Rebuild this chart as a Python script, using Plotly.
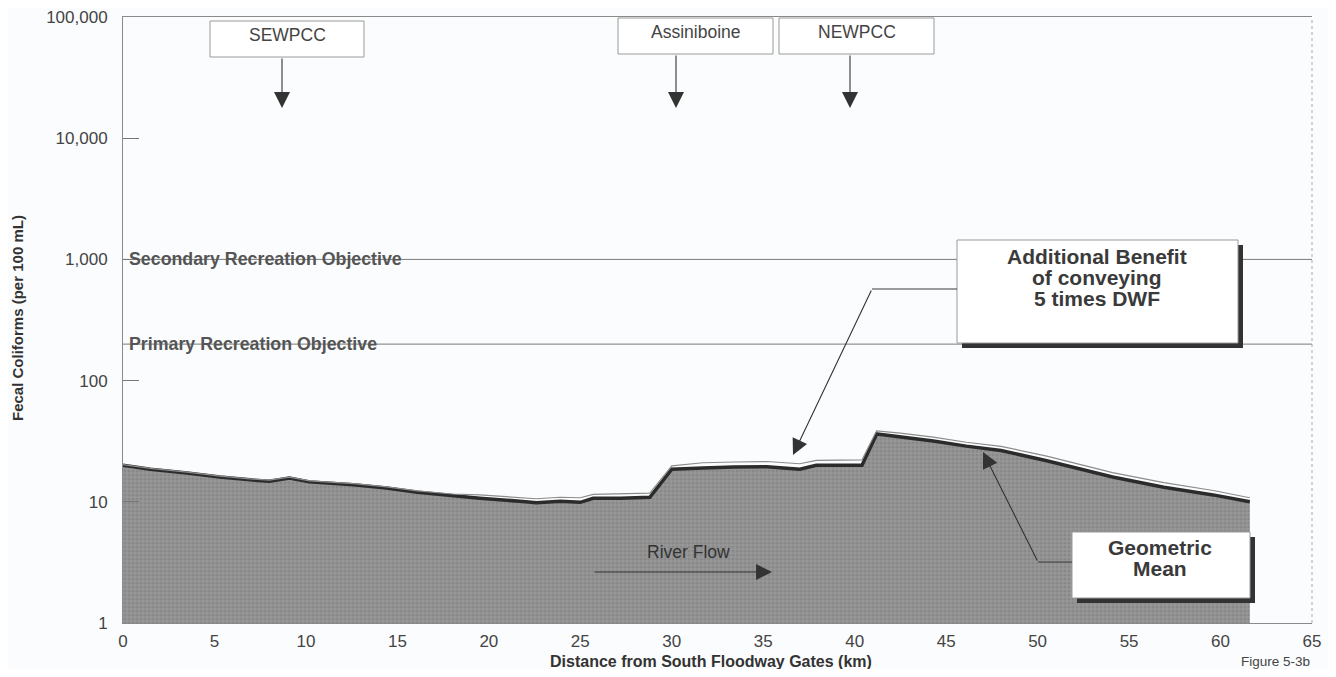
import math
import plotly.graph_objects as go

# distance downstream of the South Floodway Gates (km)
km = [0, 1.5, 3.5, 5.3, 7.1, 8.0, 9.1, 10.2, 12.6, 14.4, 16.1, 18.0, 19.5,
      21.7, 22.6, 23.9, 25.0, 25.7, 27.2, 28.8, 30.0, 31.7, 33.4, 35.2, 37.0,
      37.9, 40.4, 41.2, 42.5, 44.3, 46.1, 48.0, 50.5, 54.1, 56.9, 59.6, 61.6]

# geometric mean fecal coliforms, conveying 5 times DWF (lower, filled)
geo_mean = [20.0, 18.6, 17.3, 16.0, 15.1, 14.8, 15.7, 14.6, 13.8, 13.0, 12.0,
            11.2, 10.7, 10.1, 9.8, 10.1, 9.9, 10.7, 10.7, 10.9, 18.6, 19.0,
            19.4, 19.5, 18.6, 20.0, 20.0, 36.3, 34.3, 31.8, 28.8, 26.5, 21.8,
            16.0, 13.2, 11.4, 10.0]

# geometric mean without the additional benefit (upper thin line)
geo_mean_base = [20.3, 18.9, 17.6, 16.3, 15.4, 15.1, 16.0, 14.9, 14.1, 13.3,
                 12.3, 11.6, 11.4, 10.9, 10.6, 10.9, 10.8, 11.5, 11.6, 11.8,
                 19.8, 21.0, 21.3, 21.5, 20.6, 22.0, 22.2, 38.5, 36.8, 34.2,
                 31.0, 28.7, 23.8, 17.4, 14.4, 12.4, 10.8]

objective_names = ["Secondary Recreation Objective", "Primary Recreation Objective"]
objective_values = [1000, 200]

y_ticks = [1, 10, 100, 1000, 10000, 100000]
y_tick_text = ["1", "10", "100", "1,000", "10,000", "100,000"]
x_ticks = [0, 5, 10, 15, 20, 25, 30, 35, 40, 45, 50, 55, 60, 65]

FONT = "Arial, Liberation Sans, sans-serif"

# page has an 8px body margin; plot area in window pixels
PAGE = 8
FIG_W, FIG_H = 1336 - 2 * PAGE, 677 - 2 * PAGE
L, T, W, H = 123, 17, 1189, 606


def px(x):
    return (x - L) / W


def py(y):
    return (T + H - y) / H


fig = go.Figure()

for name, val in zip(objective_names, objective_values):
    fig.add_trace(go.Scatter(x=[0, 65], y=[val, val], mode="lines",
                             line=dict(color="#7a7a7a", width=1),
                             hoverinfo="skip", showlegend=False))

fig.add_trace(go.Scatter(x=[km[0], km[-1]], y=[1, 1], mode="lines",
                         line=dict(width=0), hoverinfo="skip", showlegend=False))
fig.add_trace(go.Scatter(
    x=km, y=geo_mean, mode="lines", fill="tonexty",
    fillcolor="#939393",
    fillpattern=dict(shape=".", bgcolor="#979797", fgcolor="#7a7a7a",
                     size=4, solidity=0.45),
    line=dict(color="#2b2b2b", width=3.5), showlegend=False))
fig.add_trace(go.Scatter(x=km, y=geo_mean_base, mode="lines",
                         line=dict(color="#8c8c8c", width=1.2), showlegend=False))

shapes = []
annotations = []


def box(x0, y0, x1, y1, shadow=False):
    if shadow:
        shapes.append(dict(type="rect", xref="paper", yref="paper",
                           x0=px(x0 + 5), x1=px(x1 + 5), y0=py(y0 + 5), y1=py(y1 + 5),
                           fillcolor="#333333", line=dict(width=0), layer="above"))
    shapes.append(dict(type="rect", xref="paper", yref="paper",
                       x0=px(x0), x1=px(x1), y0=py(y0), y1=py(y1),
                       fillcolor="white", line=dict(color="#9a9a9a", width=1),
                       layer="above"))


def arrow(tail, tip):
    annotations.append(dict(xref="paper", yref="paper", x=px(tip[0]), y=py(tip[1]),
                            ax=tail[0] - tip[0], ay=tail[1] - tip[1], text="",
                            showarrow=True, arrowhead=2, arrowsize=2.9,
                            arrowwidth=1.1, arrowcolor="#333333"))


def label(x, y, text, size, bold=False, color="#444", **kw):
    annotations.append(dict(xref="paper", yref="paper", x=px(x), y=py(y),
                            text="<b>%s</b>" % text if bold else text,
                            showarrow=False, font=dict(family=FONT, size=size, color=color),
                            xanchor=kw.get("xanchor", "center"), yanchor="middle",
                            textangle=kw.get("textangle", 0)))


# site boxes at the top
for name, (x0, y0, x1, y1), tip_x in [("SEWPCC", (210, 21, 364, 57), 282),
                                      ("Assiniboine", (618, 18, 773, 54), 676),
                                      ("NEWPCC", (779, 18, 934, 54), 850)]:
    box(x0, y0, x1, y1)
    label((x0 + x1) / 2, y0 + 14, name, 17.5)
    arrow((tip_x, y1), (tip_x, 108))

# additional benefit callout
box(957, 240, 1238, 343, shadow=True)
for i, line in enumerate(["Additional Benefit", "of conveying", "5 times DWF"]):
    label(1097, 256 + 21 * i, line, 21, bold=True, color="#3a3a3a")
shapes.append(dict(type="line", xref="paper", yref="paper", x0=px(957), x1=px(872),
                   y0=py(289), y1=py(289), line=dict(color="#3a3a3a", width=1.1),
                   layer="above"))
arrow((872, 289), (793, 455))

# geometric mean callout
box(1072, 532, 1250, 598, shadow=True)
for i, line in enumerate(["Geometric", "Mean"]):
    label(1160, 547 + 21 * i, line, 21, bold=True, color="#3a3a3a")
shapes.append(dict(type="line", xref="paper", yref="paper", x0=px(1072), x1=px(1038),
                   y0=py(562), y1=py(562), line=dict(color="#3a3a3a", width=1.1),
                   layer="above"))
arrow((1038, 562), (983, 452))

# river flow
label(688, 552, "River Flow", 17.5, color="#333")
arrow((593, 572), (772, 572))

# objectives
for name, val in zip(objective_names, objective_values):
    annotations.append(dict(xref="x", yref="y", x=0.2, y=math.log10(val),
                            text="<b>%s</b>" % name, showarrow=False,
                            xanchor="left", yanchor="middle",
                            font=dict(family=FONT, size=17.8, color="#555")))

# axis titles and figure number
label(711, 661, "Distance from South Floodway Gates (km)", 16, bold=True, color="#333")
label(17, 318, "Fecal Coliforms (per 100 mL)", 15, bold=True, color="#333", textangle=-90)
label(1275, 661, "Figure 5-3b", 13.5, color="#444")

# dotted right border
shapes.append(dict(type="line", xref="paper", yref="paper", x0=1, x1=1, y0=0, y1=1,
                   line=dict(color="#aaaaaa", width=1, dash="dot")))

fig.update_layout(
    width=FIG_W, height=FIG_H,
    margin=dict(l=L - PAGE, r=FIG_W - (L - PAGE) - W, t=T - PAGE,
                b=FIG_H - (T - PAGE) - H),
    paper_bgcolor="#fbfcfd", plot_bgcolor="#fbfcfd",
    font=dict(family=FONT, size=17, color="#444"),
    shapes=shapes, annotations=annotations,
    showlegend=False,
)
fig.update_xaxes(range=[0, 65], tickvals=x_ticks, showgrid=False, zeroline=False,
                 showline=True, linecolor="#8a8a8a", linewidth=1, mirror=True,
                 ticks="", ticklabelstandoff=3, automargin=False,
                 ticklabeloverflow="allow",
                 tickfont=dict(family=FONT, size=17, color="#444"))
fig.update_yaxes(type="log", range=[0, 5], tickvals=y_ticks, ticktext=y_tick_text,
                 showgrid=False, zeroline=False, showline=True, linecolor="#8a8a8a",
                 linewidth=1, ticks="inside", ticklen=16, tickcolor="#777",
                 ticklabelstandoff=11, automargin=False,
                 ticklabeloverflow="allow",
                 tickfont=dict(family=FONT, size=17, color="#444"))

fig.write_html("out.html")
